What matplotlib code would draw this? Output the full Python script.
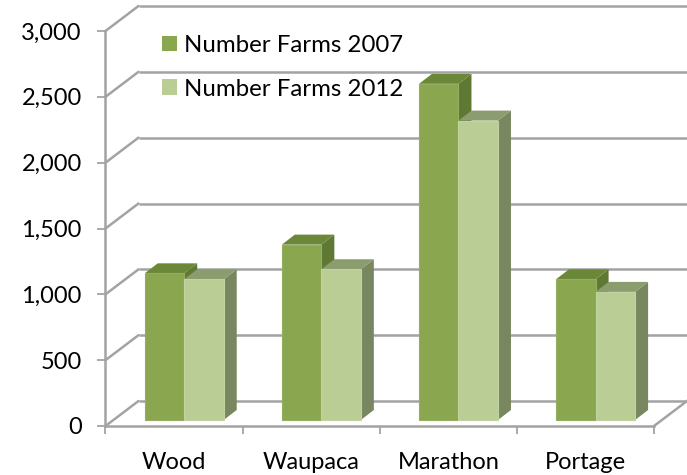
import matplotlib
matplotlib.use("Agg")
import matplotlib.pyplot as plt
from matplotlib.patches import Patch
from matplotlib.ticker import FuncFormatter

categories = ["Wood", "Waupaca", "Marathon", "Portage"]
farms_2007 = [1114, 1332, 2553, 1069]
farms_2012 = [1069, 1145, 2274, 973]
series_labels = ["Number Farms 2007", "Number Farms 2012"]
y_ticks = [0, 500, 1000, 1500, 2000, 2500, 3000]

W, H = 687, 475
plt.rcParams['font.family'] = ['Lato', 'DejaVu Sans']
fig = plt.figure(figsize=(W / 100, H / 100), dpi=100, facecolor="white")
L, R, B, T = 105.5, 654.0, 426.0, 31.0
ax = fig.add_axes([L / W, 1 - B / H, (R - L) / W, (B - T) / H])
ax.patch.set_visible(False)
ax.set_xlim(0, 4)
ax.set_ylim(0, 3000)

px_x = 4 / (R - L)          # category units per pixel
px_y = 3000 / (B - T)       # value units per pixel
GRID = "#a3a3a3"
LW = 1.8
FS = 17

wall_dx, wall_dy = 33 * px_x, 25 * px_y
x_right_edge = (W - L) * px_x

# back wall, left wall and floor lines
for v in y_ticks:
    ax.plot([0, wall_dx], [v, v + wall_dy], color=GRID, lw=LW, clip_on=False, zorder=1,
            solid_capstyle="round")
    ax.plot([wall_dx, x_right_edge], [v + wall_dy] * 2, color=GRID, lw=LW, clip_on=False,
            zorder=1, solid_capstyle="butt")
ax.plot([4, 4 + wall_dx], [0, wall_dy], color=GRID, lw=LW, clip_on=False, zorder=1)

# bars
bar_w = 39.5 * px_x
start = 0.286
base = 6 * px_y
d_dx, d_dy = 13 * px_x, 10 * px_y
styles = [
    {"front": "#8aa64f", "side": "#5f7833", "top": "#6b8839", "edge": "#95ae62"},
    {"front": "#b9cd94", "side": "#78875f", "top": "#8b9c6f", "edge": "#c2d3a2"},
]
for s, (vals, st) in enumerate(zip([farms_2007, farms_2012], styles)):
    for i, v in enumerate(vals):
        x0 = i + start + s * bar_w
        x1 = x0 + bar_w
        top = base + v
        ax.fill([x1, x1 + d_dx, x1 + d_dx, x1], [base, base + d_dy, top + d_dy, top],
                color=st["side"], lw=0, clip_on=False, zorder=3)
        ax.fill([x0, x0 + d_dx, x1 + d_dx, x1], [top, top + d_dy, top + d_dy, top],
                color=st["top"], lw=0, clip_on=False, zorder=3)
        ax.bar(x0, v, width=bar_w, bottom=base, align="edge", color=st["front"],
               edgecolor=st["edge"], lw=0.8, clip_on=False, zorder=3)

# axes
for side in ["top", "right"]:
    ax.spines[side].set_visible(False)
for side in ["left", "bottom"]:
    ax.spines[side].set_color(GRID)
    ax.spines[side].set_linewidth(LW)
    ax.spines[side].set_zorder(2)
ax.set_yticks(y_ticks)
ax.yaxis.set_major_formatter(FuncFormatter(lambda v, _: f"{int(v):,}"))
ax.set_xticks(range(5))
ax.set_xticklabels([])
ax.set_xticks([i + 0.5 for i in range(4)], minor=True)
ax.set_xticklabels(categories, minor=True)
ax.tick_params(axis="y", length=6, width=1.3, color=GRID, labelsize=FS, pad=11, labelcolor="black")
ax.tick_params(axis="x", which="major", length=6, width=1.3, color=GRID)
ax.tick_params(axis="x", which="minor", length=0, labelsize=FS, pad=18.7, labelcolor="black")

handles = [Patch(color=st["front"], lw=0) for st in styles]
ax.legend(handles, series_labels, frameon=False, fontsize=17.3, loc="upper left",
          bbox_to_anchor=((162 - L) / (R - L), 0.99), borderaxespad=0, borderpad=0,
          handlelength=0.625, handleheight=0.625, handletextpad=0.3, labelspacing=0.95)

fig.savefig("out.png", dpi=100)
